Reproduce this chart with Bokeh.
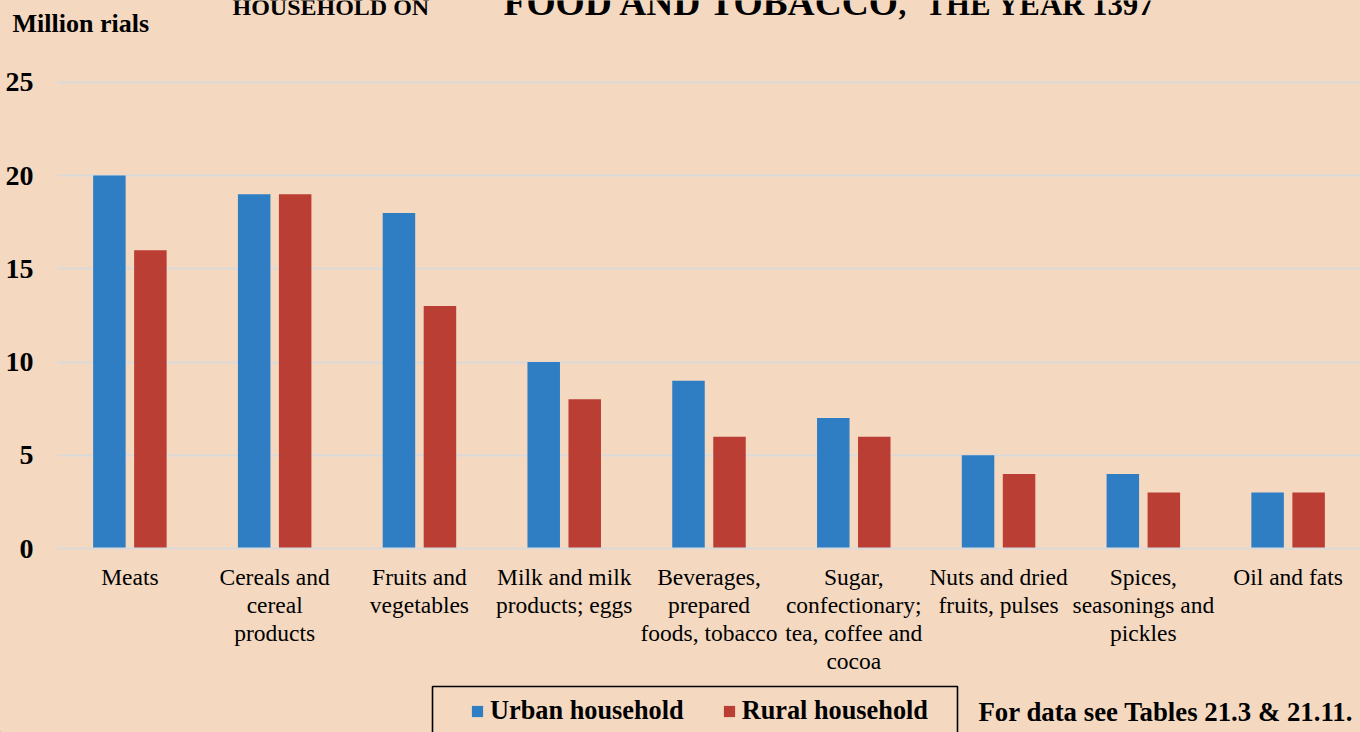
from bokeh.plotting import figure
from bokeh.layouts import column, row
from bokeh.models import (FactorRange, Range1d, FixedTicker, Legend, LegendItem,
                          Label, BoxAnnotation)
from bokeh.transform import dodge
from bokeh.embed import file_html
from bokeh.resources import INLINE

categories = [
    "Meats",
    "Cereals and\ncereal\nproducts",
    "Fruits and\nvegetables",
    "Milk and milk\nproducts; eggs",
    "Beverages,\nprepared\nfoods, tobacco",
    "Sugar,\nconfectionary;\ntea, coffee and\ncocoa",
    "Nuts and dried\nfruits, pulses",
    "Spices,\nseasonings and\npickles",
    "Oil and fats",
]
urban = [20, 19, 18, 10, 9, 7, 5, 4, 3]
rural = [16, 19, 13, 8, 6, 6, 4, 3, 3]
y_ticks = [0, 5, 10, 15, 20, 25]
series_names = ["Urban household", "Rural household"]

BG = "#F4D9C0"
BLUE = "#2F7EC4"
RED = "#BB3E35"
SERIF = "Liberation Serif"

W = 1360
TOP_H = 50          # header strip
MAIN_H = 630        # chart strip
BOT_H = 52          # legend strip
LEFT = 57
Y_END = 25.1
FRAME_TOP = 80      # page y of frame top
ZERO_Y = 548        # page y of value 0


def blank(height):
    f = figure(width=W, height=height, output_backend="svg", toolbar_location=None,
               x_range=Range1d(0, W), y_range=Range1d(0, height),
               min_border=0, x_axis_type=None, y_axis_type=None)
    f.background_fill_alpha = 0
    f.border_fill_color = BG
    f.outline_line_color = None
    f.xgrid.grid_line_color = None
    f.ygrid.grid_line_color = None
    return f


def add_label(f, h, text, sx, sy, size, align="left", style="bold"):
    # sx, sy: pixels (text middle) from the strip's top-left corner
    f.add_layout(Label(x=sx, y=h - sy, text=text, text_font=SERIF,
                       text_font_size=size, text_font_style=style,
                       text_color="black", text_align=align, text_baseline="middle"))


# ---------- header ----------
top = blank(TOP_H)
add_label(top, TOP_H, "HOUSEHOLD ON", 232, 6, "24px")
add_label(top, TOP_H, "FOOD AND TOBACCO", 503, 2, "37.5px")
add_label(top, TOP_H, ",", 898, 3.5, "31px")
add_label(top, TOP_H, "THE YEAR 1397", 925, 4, "30.8px")
add_label(top, TOP_H, "Million rials", 12, 23, "26px")

# ---------- main chart ----------
frame_h = ZERO_Y - FRAME_TOP
border_top = FRAME_TOP - TOP_H
p = figure(width=W, height=MAIN_H, output_backend="svg", toolbar_location=None,
           x_range=FactorRange(factors=categories, range_padding=0),
           y_range=Range1d(0, Y_END),
           min_border_left=LEFT, min_border_right=0,
           min_border_top=border_top, min_border_bottom=MAIN_H - frame_h - border_top)
p.background_fill_alpha = 0
p.border_fill_color = BG
p.outline_line_color = None

src = dict(cat=categories, urban=urban, rural=rural)
r1 = p.vbar(x=dodge("cat", -0.1416, range=p.x_range), top="urban", width=0.2245,
            source=src, fill_color=BLUE, line_color=None)
r2 = p.vbar(x=dodge("cat", 0.1416, range=p.x_range), top="rural", width=0.2245,
            source=src, fill_color=RED, line_color=None)

p.xgrid.grid_line_color = None
p.ygrid.grid_line_color = "#D9D9D9"
p.ygrid.grid_line_width = 2
p.yaxis.ticker = FixedTicker(ticks=y_ticks)
p.yaxis.axis_line_color = None
p.yaxis.major_tick_line_color = None
p.yaxis.minor_tick_line_color = None
p.yaxis.major_tick_out = 0
p.yaxis.major_label_standoff = 24
p.yaxis.major_label_text_font = SERIF
p.yaxis.major_label_text_font_style = "bold"
p.yaxis.major_label_text_font_size = "28px"
p.yaxis.major_label_text_color = "black"

p.xaxis.axis_line_color = "#D9D9D9"
p.xaxis.axis_line_width = 2
p.xaxis.major_tick_line_color = None
p.xaxis.minor_tick_line_color = None
p.xaxis.major_tick_out = 0
p.xaxis.major_label_standoff = 15
p.xaxis.major_label_text_font = SERIF
p.xaxis.major_label_text_font_size = "23.5px"
p.xaxis.major_label_text_color = "black"
p.xaxis.major_label_text_line_height = 1.08

# ---------- legend strip ----------
bot = blank(BOT_H)
page_top = TOP_H + MAIN_H  # 680
bot.add_layout(BoxAnnotation(left=432, right=957, top=BOT_H - (686 - page_top), bottom=-20,
                             fill_alpha=0, line_color="black", line_alpha=1.0,
                             line_width=1.6))
# legend proxies (placed outside the visible range)
l1 = bot.vbar(x=[-500], top=[1], width=1, fill_color=BLUE, line_color=None)
l2 = bot.vbar(x=[-500], top=[1], width=1, fill_color=RED, line_color=None)
legend = Legend(items=[LegendItem(label=series_names[0], renderers=[l1]),
                       LegendItem(label=series_names[1], renderers=[l2])],
                orientation="horizontal", location=(470, 732 - 726),
                glyph_width=14, glyph_height=14, label_standoff=6, spacing=38,
                padding=0, margin=0, border_line_color=None,
                background_fill_alpha=0,
                label_text_font=SERIF, label_text_font_style="bold",
                label_text_font_size="26.3px", label_text_color="black")
bot.add_layout(legend)
add_label(bot, BOT_H, "For data see Tables 21.3 & 21.11.", 978, 711 - page_top, "26.8px")

layout = column(top, row(p), bot, spacing=0, styles={"background-color": BG})
open("out.html", "w").write(file_html(layout, INLINE))
